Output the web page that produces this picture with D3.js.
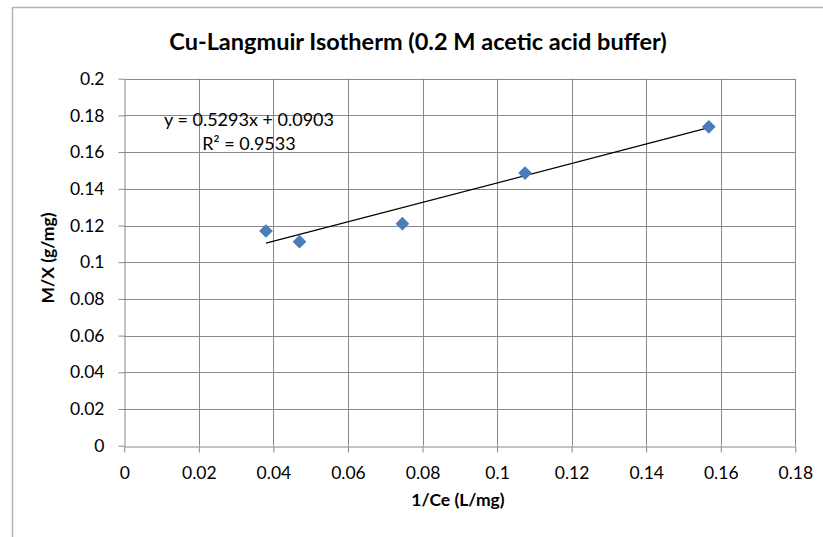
<!DOCTYPE html>
<html>
<head>
<meta charset="utf-8">
<script src="https://cdn.jsdelivr.net/npm/d3@7"></script>
<style>
  html, body { margin: 0; padding: 0; background: #fff; }
  svg { display: block; }
  text { font-family: Lato, "Open Sans", sans-serif; fill: #000; }
</style>
</head>
<body>
<svg id="chart" width="823" height="537"></svg>
<script>
// ---- data ----
const titleText = "Cu-Langmuir Isotherm (0.2 M acetic acid buffer)";
const xLabel = "1/Ce (L/mg)";
const yLabel = "M/X (g/mg)";
const xValues = [0.0380, 0.0470, 0.0746, 0.1075, 0.1568];
const yValues = [0.1170, 0.1112, 0.1210, 0.1486, 0.1738];
const xTicks = [0, 0.02, 0.04, 0.06, 0.08, 0.1, 0.12, 0.14, 0.16, 0.18];
const yTicks = [0, 0.02, 0.04, 0.06, 0.08, 0.1, 0.12, 0.14, 0.16, 0.18, 0.2];
const trendSlope = 0.5293;
const trendIntercept = 0.0903;
const equationLines = ["y = 0.5293x + 0.0903", "R\u00B2 = 0.9533"];

// ---- layout ----
const svg = d3.select("#chart");
const W = 823, H = 537;
const plot = { left: 124.3, right: 795.3, top: 78.7, bottom: 445.7 };
const gridColor = "#888888";

// chart frame (top and left edges visible)
svg.append("path")
  .attr("d", `M12.5,${H} L12.5,7.5 L${W},7.5`)
  .attr("fill", "none").attr("stroke", "#b4b4b4").attr("stroke-width", 1.5);

const x = d3.scaleLinear().domain([0, 0.18]).range([plot.left, plot.right]);
const y = d3.scaleLinear().domain([0, 0.2]).range([plot.bottom, plot.top]);

// gridlines
svg.append("g").selectAll("line.v").data(xTicks.slice(1)).join("line")
  .attr("x1", d => Math.round(x(d)) + 0.5).attr("x2", d => Math.round(x(d)) + 0.5)
  .attr("y1", plot.top).attr("y2", plot.bottom)
  .attr("stroke", gridColor).attr("stroke-width", 1);
svg.append("g").selectAll("line.h").data(yTicks.slice(1)).join("line")
  .attr("x1", plot.left).attr("x2", plot.right)
  .attr("y1", d => Math.round(y(d)) + 0.5).attr("y2", d => Math.round(y(d)) + 0.5)
  .attr("stroke", gridColor).attr("stroke-width", 1);

const fmt = d => d3.format("")(+d.toFixed(2));

// axes
const xAxis = svg.append("g")
  .attr("transform", `translate(0,${Math.round(plot.bottom) + 0.5})`)
  .call(d3.axisBottom(x).tickValues(xTicks).tickFormat(fmt).tickSize(6).tickPadding(14).tickSizeOuter(0));
const yAxis = svg.append("g")
  .attr("transform", `translate(${Math.round(plot.left) + 0.5},0)`)
  .call(d3.axisLeft(y).tickValues(yTicks).tickFormat(fmt).tickSize(6).tickPadding(14).tickSizeOuter(0));

[xAxis, yAxis].forEach(g => {
  g.select(".domain").attr("stroke", gridColor);
  g.selectAll(".tick line").attr("stroke", gridColor);
  g.selectAll(".tick text").attr("font-family", "Lato, sans-serif").attr("font-size", 17.5).attr("fill", "#000");
});

// trendline
const xMin = d3.min(xValues), xMax = d3.max(xValues);
svg.append("line")
  .attr("x1", x(xMin)).attr("y1", y(trendSlope * xMin + trendIntercept))
  .attr("x2", x(xMax)).attr("y2", y(trendSlope * xMax + trendIntercept))
  .attr("stroke", "#000").attr("stroke-width", 1.2);

// markers (diamonds)
const pts = xValues.map((v, i) => [v, yValues[i]]);
svg.append("g").selectAll("path").data(pts).join("path")
  .attr("transform", d => `translate(${x(d[0])},${y(d[1])})`)
  .attr("d", d3.symbol().type(d3.symbolDiamond2).size(120))
  .attr("fill", "#4a7ebb");

// equation label
const eq = svg.append("text").attr("text-anchor", "middle").attr("font-size", 18);
equationLines.forEach((t, i) => {
  eq.append("tspan").attr("x", 249).attr("y", 126 + i * 24).text(t);
});

// title
svg.append("text").attr("x", 418).attr("y", 50).attr("text-anchor", "middle")
  .attr("font-size", 23.5).attr("font-weight", "bold").text(titleText);

// axis titles
svg.append("text").attr("x", 458).attr("y", 506).attr("text-anchor", "middle")
  .attr("font-size", 17.5).attr("font-weight", "bold").text(xLabel);
svg.append("text").attr("transform", "translate(54,258) rotate(-90)").attr("text-anchor", "middle")
  .attr("font-size", 17.5).attr("font-weight", "bold").text(yLabel);
</script>
</body>
</html>
